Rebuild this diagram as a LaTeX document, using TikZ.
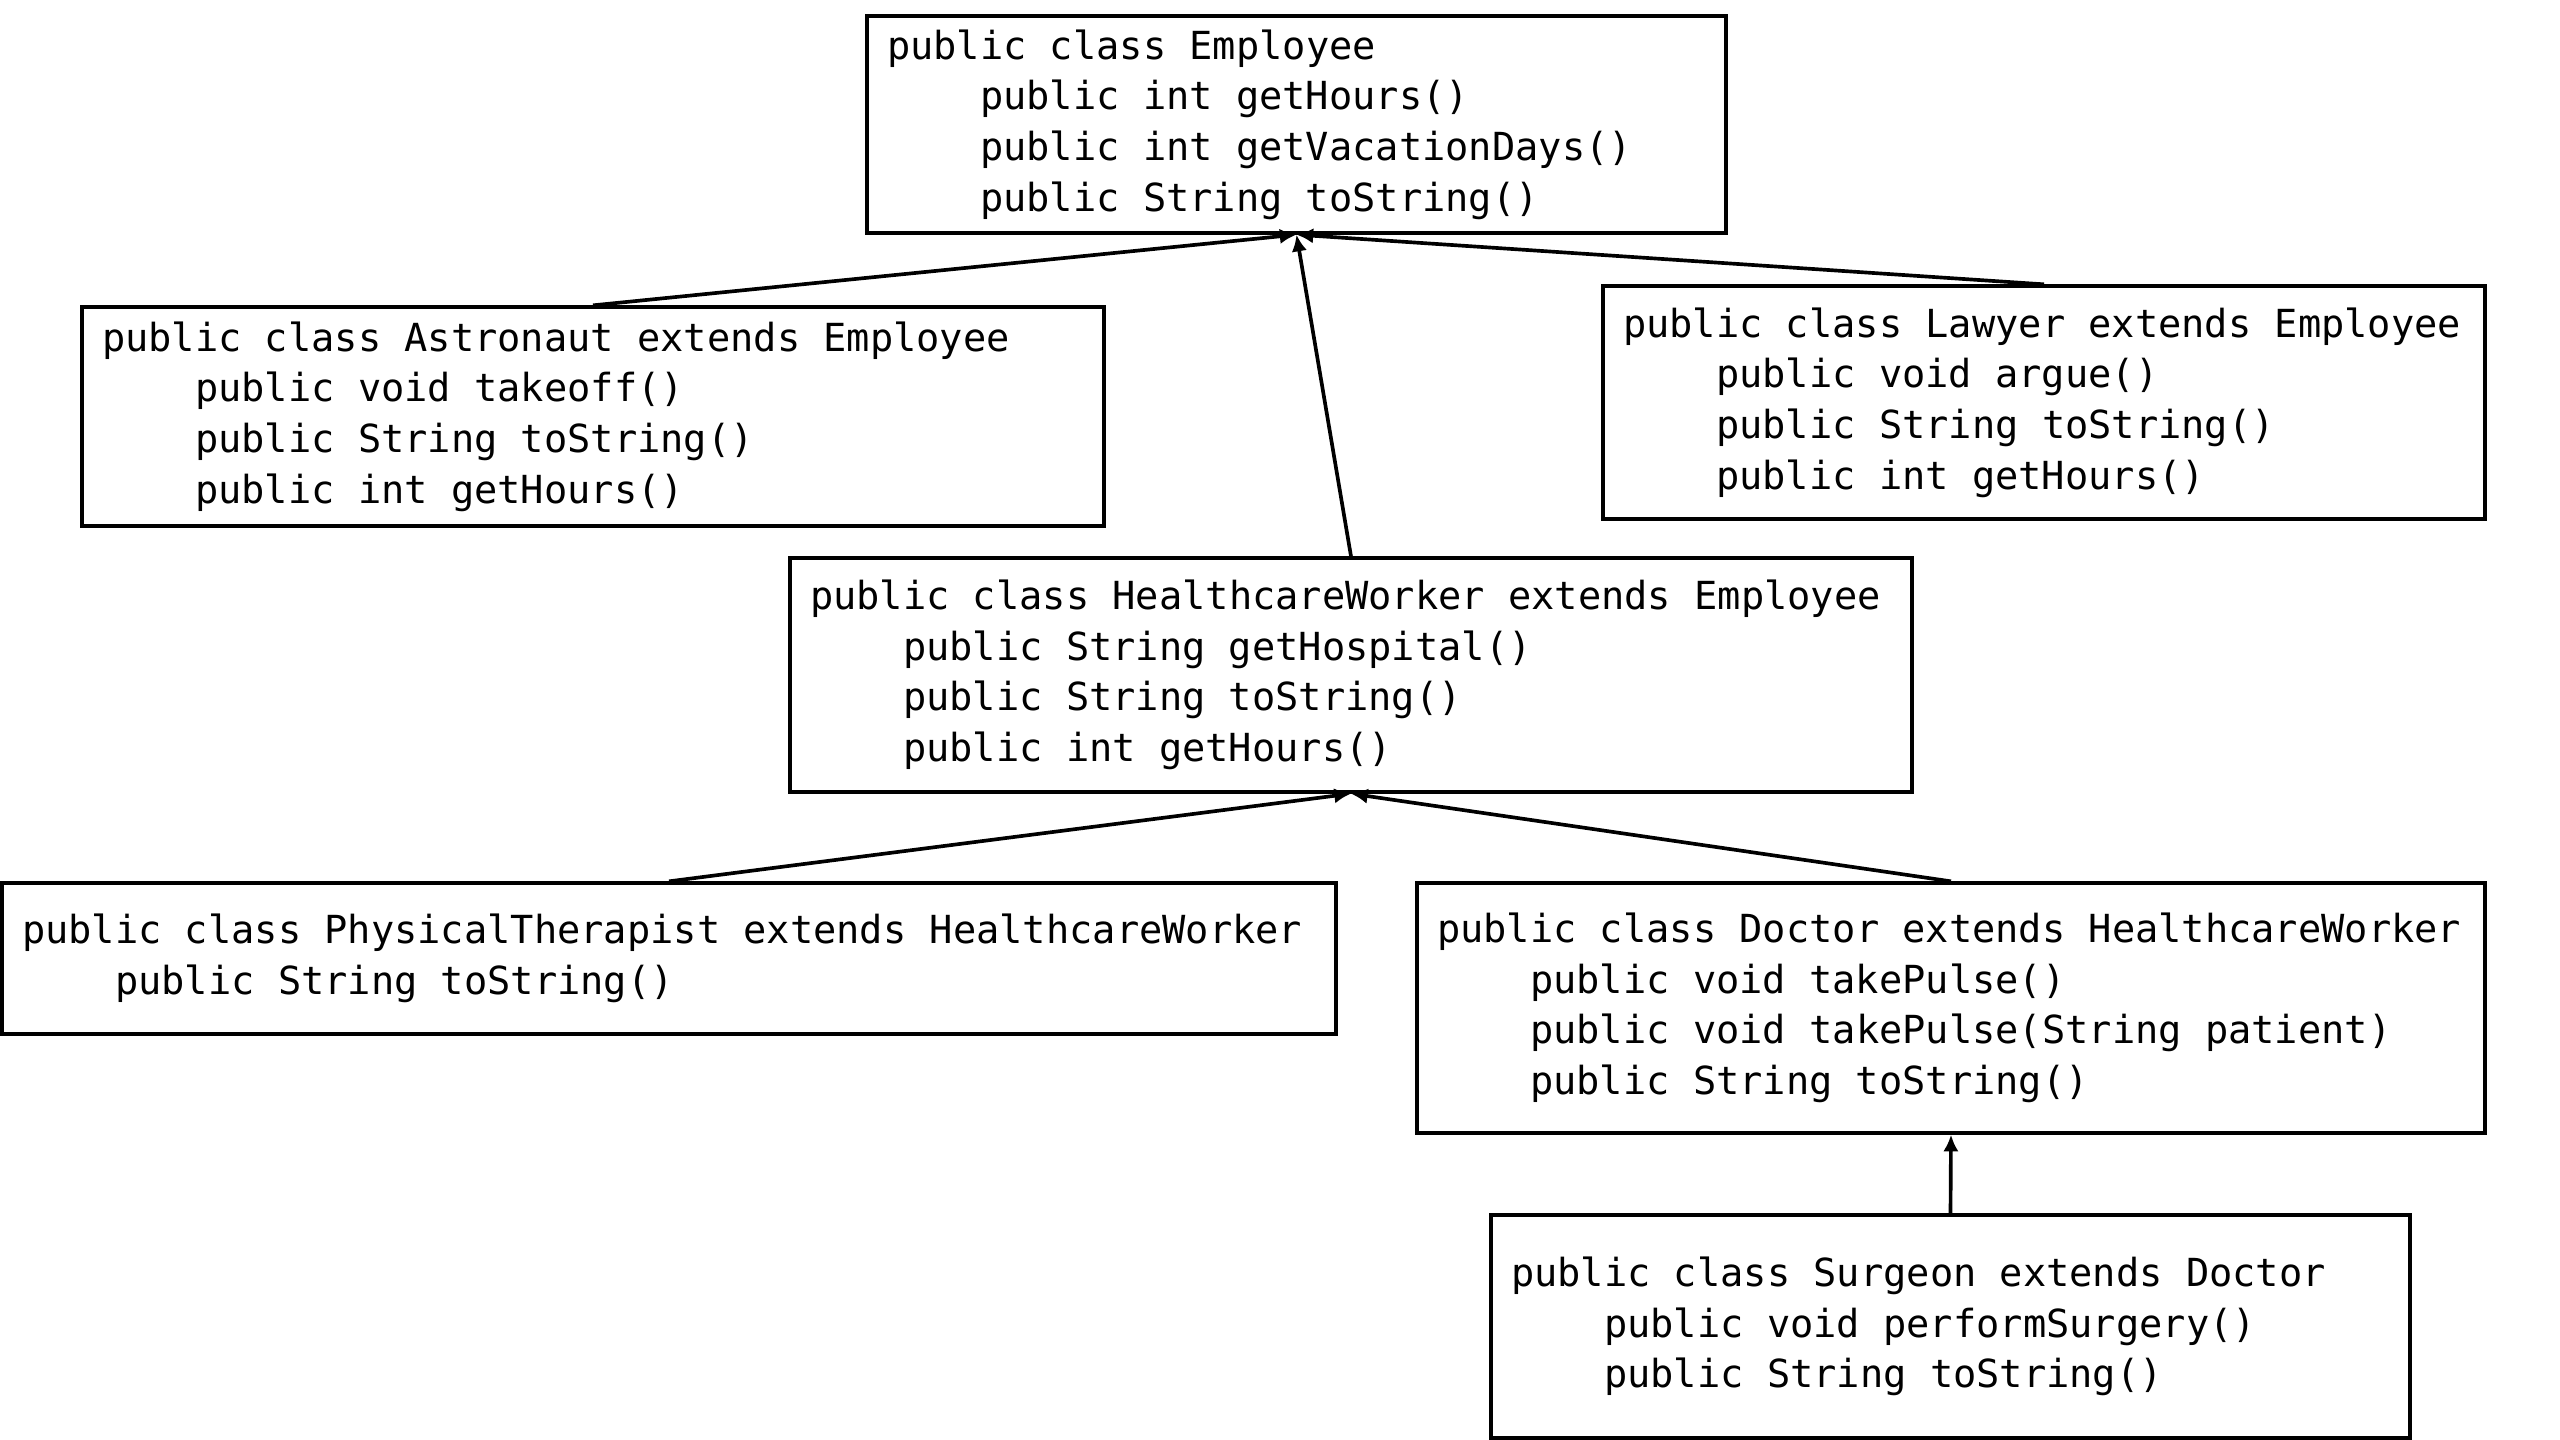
\documentclass[tikz,border=0pt]{standalone}
\usepackage{fontspec}
\setmonofont{DejaVu Sans Mono}
\usetikzlibrary{arrows.meta}
\newcommand\myind{\hspace*{2.408em}}
\protected\def\codefont{\ttfamily\fontsize{11.6}{15.2}\selectfont}
\protected\def\monospaces{\spaceskip=0.602em\relax \xspaceskip=0.602em\relax}
\begin{document}
\begin{tikzpicture}[x=0.3pt,y=-0.3pt,
  classbox/.style={draw, line width=1pt, align=left, inner xsep=6pt, inner ysep=2pt,
    font=\codefont, execute at begin node=\monospaces},
  link/.style={line width=1.1pt, -{Latex[length=5pt,width=4.6pt]}}]
\useasboundingbox (0,0) rectangle (2560,1440);
\node[classbox, text width=245.7pt, minimum height=65.1pt] (emp) at (1296.5,124.5)
 {public class Employee\\ \myind public int getHours()\\ \myind public int getVacationDays()\\ \myind public String toString()};
\node[classbox, text width=294.6pt, minimum height=65.7pt] (ast) at (593,416.5)
 {public class Astronaut extends Employee\\ \myind public void takeoff()\\ \myind public String toString()\\ \myind public int getHours()};
\node[classbox, text width=252.6pt, minimum height=69.9pt] (law) at (2044,402.5)
 {public class Lawyer extends Employee\\ \myind public void argue()\\ \myind public String toString()\\ \myind public int getHours()};
\node[classbox, text width=324.6pt, minimum height=70.2pt] (hw) at (1351,675)
 {public class HealthcareWorker extends Employee\\ \myind public String getHospital()\\ \myind public String toString()\\ \myind public int getHours()};
\node[classbox, text width=388.2pt, minimum height=45.3pt] (pt) at (669,958.5)
 {public class PhysicalTherapist extends HealthcareWorker\\ \myind public String toString()};
\node[classbox, text width=308.4pt, minimum height=75pt] (doc) at (1951,1008)
 {public class Doctor extends HealthcareWorker\\ \myind public void takePulse()\\ \myind public void takePulse(String patient)\\ \myind public String toString()};
\node[classbox, text width=263.7pt, minimum height=66.9pt] (sur) at (1950.5,1326.5)
 {public class Surgeon extends Doctor\\ \myind public void performSurgery()\\ \myind public String toString()};
\draw[link] (ast.north) -- (emp.south);
\draw[link] (law.north) -- (emp.south);
\draw[link] (hw.north) -- (emp.south);
\draw[link] (pt.north) -- (hw.south);
\draw[link] (doc.north) -- (hw.south);
\draw[link] (sur.north) -- (doc.south);
\end{tikzpicture}
\end{document}
